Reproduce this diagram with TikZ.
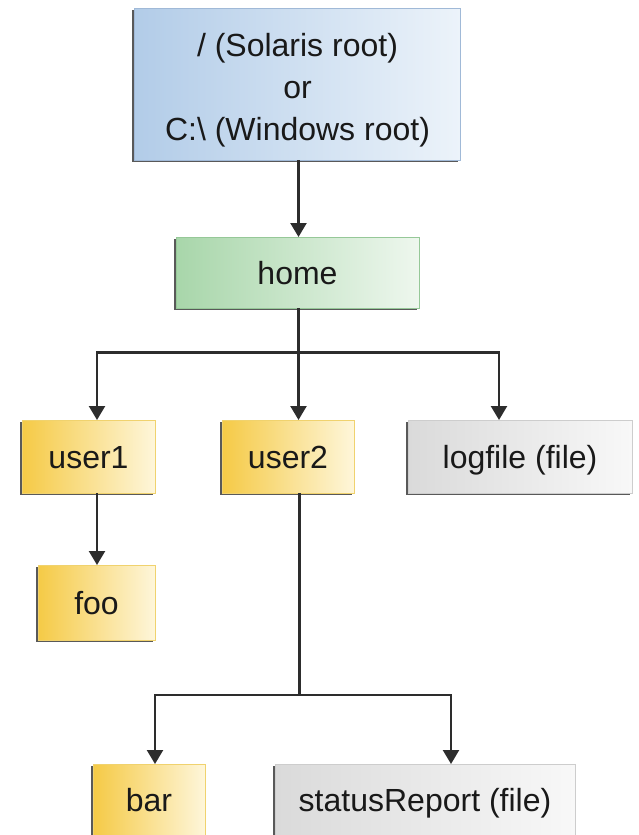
\documentclass[tikz,border=0pt]{standalone}
\usepackage{fontspec}
\setmainfont{Liberation Sans}
\usetikzlibrary{arrows.meta,shadows,calc}
\definecolor{linec}{RGB}{45,45,45}
\definecolor{txt}{RGB}{25,25,25}
\definecolor{blueL}{RGB}{178,204,232}
\definecolor{blueR}{RGB}{236,243,250}
\definecolor{blueB}{RGB}{160,185,215}
\definecolor{greenL}{RGB}{168,214,170}
\definecolor{greenR}{RGB}{238,247,238}
\definecolor{greenB}{RGB}{150,200,152}
\definecolor{yelL}{RGB}{245,202,70}
\definecolor{yelR}{RGB}{254,246,218}
\definecolor{yelB}{RGB}{240,210,110}
\definecolor{grayL}{RGB}{218,218,218}
\definecolor{grayR}{RGB}{248,248,248}
\definecolor{grayB}{RGB}{205,205,205}
\begin{document}
\begin{tikzpicture}[x=1pt,y=-1pt,
  box/.style={rectangle, inner sep=0pt, outer sep=0pt, line width=0.8pt,
    font=\fontsize{32}{42}\selectfont, text=txt, align=center,
    general shadow={fill=black!65, shadow xshift=-2.2pt, shadow yshift=-2.2pt}},
  single/.style={text height=24pt, text depth=1pt},
  rootbox/.style={box, left color=blueL, right color=blueR, draw=blueB},
  homebox/.style={box, single, left color=greenL, right color=greenR, draw=greenB},
  dirbox/.style={box, single, left color=yelL, right color=yelR, draw=yelB},
  filebox/.style={box, single, left color=grayL, right color=grayR, draw=grayB},
  conn/.style={draw=linec, line width=2.4pt},
  arr/.style={conn, -{Triangle[width=16pt,length=14pt]}}
]
\useasboundingbox (0,0) rectangle (639,835);

\node[rootbox, minimum width=326pt, minimum height=152pt] (root) at (297.5,84)
  {\raisebox{-6pt}[\height][\depth]{\begin{tabular}{@{}c@{}}/ (Solaris root)\\or\\C:\textbackslash{} (Windows root)\end{tabular}}};
\node[homebox, minimum width=243pt, minimum height=71pt] (home) at (297.5,272.5) {home};
\node[dirbox, minimum width=133pt, minimum height=73pt] (user1) at (88.5,456.5) {user1};
\node[dirbox, minimum width=132pt, minimum height=73pt] (user2) at (288,456.5) {user2};
\node[filebox, minimum width=224pt, minimum height=73pt] (logfile) at (520,456.5) {logfile (file)};
\node[dirbox, minimum width=117pt, minimum height=75pt] (foo) at (96.5,602.5) {foo};
\node[dirbox, minimum width=112pt, minimum height=71pt] (bar) at (149,799.5) {bar};
\node[filebox, minimum width=300pt, minimum height=71pt] (status) at (425,799.5) {statusReport (file)};

\coordinate (j1) at (298.5,352.5);
\coordinate (j2) at (299.5,695);

\draw[arr] ([xshift=1pt]root.south) -- ([xshift=1pt]home.north);
\draw[conn] ([xshift=1pt]home.south) -- (j1);
\draw[arr] (j1) -| ([xshift=8.5pt]user1.north);
\draw[arr] (j1) -- ([xshift=10.5pt]user2.north);
\draw[arr] (j1) -| ([xshift=-21pt]logfile.north);
\draw[arr] ([xshift=8.5pt]user1.south) -- ([xshift=0.5pt]foo.north);
\draw[conn] ([xshift=11.5pt]user2.south) -- (j2);
\draw[arr] (j2) -| ([xshift=6pt]bar.north);
\draw[arr] (j2) -| ([xshift=26pt]status.north);
\end{tikzpicture}
\end{document}
